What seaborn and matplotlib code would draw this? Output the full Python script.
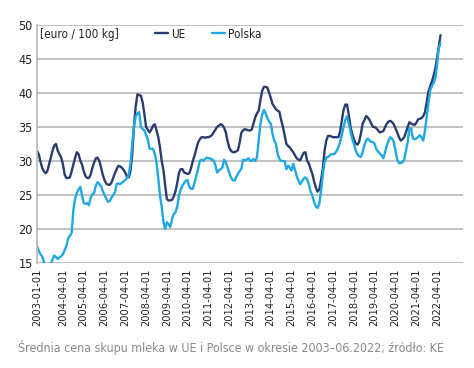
import numpy as np
import pandas as pd
import matplotlib
matplotlib.use("Agg")
import matplotlib.pyplot as plt
import seaborn as sns

# ---- data (monthly, 2003-01 .. 2022-06), euro / 100 kg ----
start_month = "2003-01-01"
ue = [
    31.5, 31.0, 30.0, 29.0, 28.5, 28.2, 28.5, 29.5, 30.5, 31.5, 32.3, 32.5,  # 2003
    31.5, 31.0, 30.5, 29.5, 28.0, 27.5, 27.5, 27.6, 28.5, 29.5, 30.5, 31.3,  # 2004
    31.0, 30.0, 29.5, 28.5, 27.8, 27.5, 27.5, 28.0, 29.0, 29.8, 30.4, 30.5,  # 2005
    30.0, 29.0, 28.0, 27.2, 26.7, 26.5, 26.5, 26.8, 27.5, 28.2, 28.8, 29.3,  # 2006
    29.2, 29.0, 28.7, 28.3, 27.7, 27.6, 28.5, 31.0, 35.0, 38.0, 39.8, 39.7,  # 2007
    39.6, 38.6, 37.0, 35.0, 34.6, 34.2, 34.6, 35.2, 35.4, 34.5, 33.5, 32.0,  # 2008
    30.0, 28.6, 26.5, 24.4, 24.2, 24.2, 24.3, 24.8, 25.6, 26.8, 28.3, 28.8,  # 2009
    28.8, 28.3, 28.2, 28.1, 28.2, 29.0, 30.0, 30.8, 31.8, 32.7, 33.2, 33.5,  # 2010
    33.5, 33.4, 33.5, 33.5, 33.6, 33.8, 34.2, 34.6, 35.0, 35.2, 35.4, 35.3,  # 2011
    34.9, 34.2, 33.0, 32.0, 31.5, 31.3, 31.3, 31.4, 31.6, 32.7, 34.2, 34.5,  # 2012
    34.7, 34.6, 34.5, 34.5, 34.6, 35.5, 36.4, 37.0, 37.4, 39.0, 40.3, 40.9,  # 2013
    40.9, 40.8, 40.1, 39.3, 38.4, 38.0, 37.6, 37.4, 37.2, 36.0, 35.0, 33.8,  # 2014
    32.5, 32.2, 32.0, 31.6, 31.3, 30.8, 30.4, 30.2, 30.1, 30.7, 31.2, 31.3,  # 2015
    30.0, 29.6, 28.8, 28.1, 27.0, 26.1, 25.5, 25.8, 27.2, 28.8, 31.5, 33.0,  # 2016
    33.7, 33.7, 33.6, 33.5, 33.5, 33.5, 33.5, 34.3, 36.0, 37.5, 38.3, 38.3,  # 2017
    36.8, 35.0, 34.0, 33.2, 32.6, 32.4, 32.8, 34.0, 35.5, 36.0, 36.6, 36.4,  # 2018
    36.0, 35.5, 35.0, 35.0, 34.8, 34.5, 34.2, 34.3, 34.4, 35.0, 35.5, 35.8,  # 2019
    35.9, 35.7, 35.4, 34.8, 34.2, 33.5, 33.0, 33.2, 33.5, 34.2, 35.0, 35.7,  # 2020
    35.5, 35.4, 35.3, 35.6, 36.1, 36.2, 36.3, 36.6, 37.2, 38.7, 40.2, 41.0,  # 2021
    41.7, 42.6, 43.6, 45.1, 46.8, 48.5,                                      # 2022
]
polska = [
    17.5, 16.8, 16.3, 16.0, 15.2, 14.5, 14.3, 14.5, 14.9, 15.5, 16.1, 15.9,  # 2003
    15.6, 15.8, 16.0, 16.3, 16.9, 17.5, 18.6, 19.0, 19.4, 22.8, 24.5, 25.3,  # 2004
    25.8, 26.2, 25.0, 23.8, 23.7, 23.8, 23.5, 24.6, 25.1, 25.3, 26.4, 26.9,  # 2005
    26.6, 26.3, 25.6, 25.0, 24.5, 24.0, 24.1, 24.6, 25.0, 25.4, 26.6, 26.7,  # 2006
    26.6, 26.8, 27.0, 27.2, 27.5, 28.0, 29.5, 32.5, 35.0, 36.5, 37.0, 37.2,  # 2007
    35.0, 34.7, 34.5, 33.8, 33.2, 31.8, 31.8, 31.8, 31.0, 29.8, 27.5, 25.0,  # 2008
    23.2, 21.0, 20.0, 21.0, 20.7, 20.3, 21.5, 22.2, 22.5, 23.3, 25.0, 25.8,  # 2009
    26.4, 26.8, 27.1, 27.2, 26.2, 25.9, 25.9, 26.8, 27.8, 28.8, 30.0, 30.2,  # 2010
    30.0, 30.3, 30.5, 30.4, 30.4, 30.2, 30.1, 29.4, 28.3, 28.6, 28.8, 29.0,  # 2011
    30.2, 29.8, 29.1, 28.3, 27.6, 27.2, 27.1, 27.6, 28.1, 28.5, 28.9, 30.2,  # 2012
    30.1, 30.2, 30.4, 30.1, 30.0, 30.3, 30.0, 30.5, 33.0, 35.5, 36.8, 37.5,  # 2013
    37.0, 36.3, 35.8, 35.5, 34.0, 33.0, 32.5, 31.0, 30.3, 30.0, 30.0, 30.0,  # 2014
    28.8, 29.3, 29.0, 28.6, 29.6, 28.7, 27.8, 27.1, 26.6, 27.0, 27.4, 27.6,  # 2015
    27.3, 26.5, 25.5, 24.9, 24.0, 23.3, 23.1, 23.7, 25.6, 28.0, 29.8, 30.5,  # 2016
    30.6, 30.8, 31.0, 31.0, 31.1, 31.5, 32.0, 32.8, 33.8, 35.0, 36.0, 36.6,  # 2017
    35.5, 34.3, 33.3, 32.5, 31.6, 31.0, 30.7, 30.6, 31.3, 32.3, 33.0, 33.3,  # 2018
    33.0, 32.8, 32.8, 32.5, 31.7, 31.4, 31.1, 30.8, 30.4, 31.3, 32.3, 33.0,  # 2019
    33.5, 33.3, 32.8, 31.5, 30.2, 29.7, 29.7, 29.8, 30.2, 31.5, 32.8, 34.8,  # 2020
    34.8, 33.3, 33.2, 33.3, 33.5, 33.8, 33.5, 33.0, 34.5, 36.5, 38.5, 40.4,  # 2021
    41.0, 41.5, 42.1, 44.1, 46.6, 47.3,                                      # 2022
]
series_names = ["UE", "Polska"]
tick_labels = ["2003-01-01", "2004-04-01", "2005-04-01", "2006-04-01", "2007-04-01",
               "2008-04-01", "2009-04-01", "2010-04-01", "2011-04-01", "2012-04-01",
               "2013-04-01", "2014-04-01", "2015-04-01", "2016-04-01", "2017-04-01",
               "2018-04-01", "2019-04-01", "2020-04-01", "2021-04-01", "2022-04-01"]
y_ticks = [15, 20, 25, 30, 35, 40, 45, 50]
unit_label = "[euro / 100 kg]"
caption = "Średnia cena skupu mleka w UE i Polsce w okresie 2003–06.2022; źródło: KE"

# ---- build table ----
dates = pd.date_range(start_month, periods=len(ue), freq="MS")
df = pd.DataFrame({
    "data": np.concatenate([dates, dates]),
    "cena": ue + polska,
    "seria": [series_names[0]] * len(ue) + [series_names[1]] * len(polska),
})

sns.set_theme(style="white")
plt.rcParams["font.family"] = ["DejaVu Sans"]
plt.rcParams["font.stretch"] = "condensed"

fig = plt.figure(figsize=(4.74, 3.68), dpi=100)
ax = fig.add_axes([37 / 474, 1 - 263 / 368, 426 / 474, 238 / 368])

colors = {"UE": "#2b3c6e", "Polska": "#1fa8e1"}
sns.lineplot(data=df, x="data", y="cena", hue="seria", palette=colors,
             linewidth=1.7, ax=ax, legend=True)

ax.set_ylim(15, 50)
ax.set_yticks(y_ticks)
ax.set_xlim(pd.Timestamp("2003-01-01"), pd.Timestamp("2023-07-01"))
ax.set_xticks([pd.Timestamp(t) for t in tick_labels])
ax.set_xticklabels(tick_labels, rotation=90, fontsize=7.9, color="#222222")
ax.tick_params(axis="y", labelsize=9, colors="#222222", length=0, pad=3)
ax.tick_params(axis="x", length=0, pad=4)
ax.set_xlabel("")
ax.set_ylabel("")

ax.yaxis.grid(True, color="#bcbcbc", linewidth=1.3)
ax.xaxis.grid(False)
for s in ["top", "right", "bottom"]:
    ax.spines[s].set_visible(False)
ax.spines["left"].set_color("#bcbcbc")
ax.spines["left"].set_linewidth(1.3)
ax.set_axisbelow(True)

ax.text(0.007, 0.962, unit_label, transform=ax.transAxes, fontsize=8.4,
        ha="left", va="center", color="#222222")

leg = ax.legend(ncol=2, loc="center left", bbox_to_anchor=((155 - 37) / 426, 0.962),
                frameon=False, fontsize=8.5, handlelength=1.1, handletextpad=0.25,
                columnspacing=2.3, borderaxespad=0, borderpad=0)
for t in leg.get_texts():
    t.set_color("#222222")
for h in leg.get_lines():
    h.set_linewidth(1.7)

fig.text(0.487, 0.057, caption, ha="center", va="center", fontsize=8.9,
         color="#8a8a8a")

fig.savefig("out.png", dpi=100)
